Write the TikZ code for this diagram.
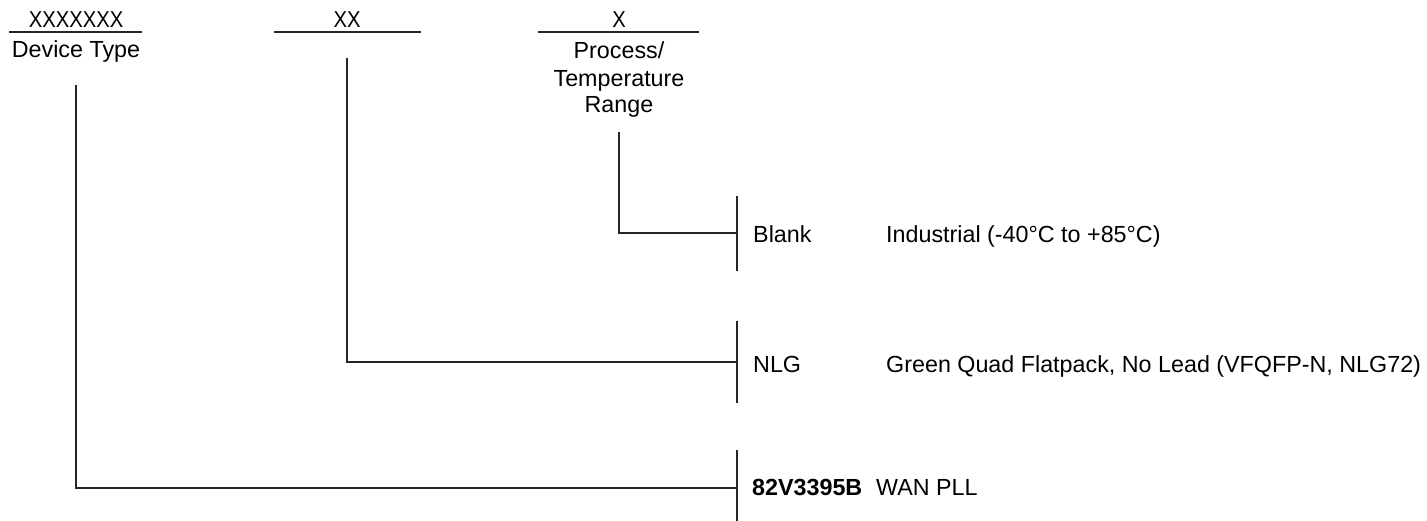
\documentclass[tikz,border=0pt]{standalone}
\usepackage{fontspec}
\setmainfont{Liberation Sans}
\begin{document}
\begin{tikzpicture}[x=1pt,y=-1pt,
  txt/.style={inner sep=0pt, font=\fontsize{23.3}{28}\selectfont},
  code/.style={inner sep=0pt, font=\fontsize{23}{27}\selectfont, xscale=0.88, anchor=base},
  ln/.style={line width=1.2pt, black!85}]
\useasboundingbox (0,0) rectangle (1427,521);
% field codes
\node[code] (c1) at (76,28) {XXXXXXX};
\node[code] (c2) at (347,28) {XX};
\node[code] (c3) at (619,28) {X};
\coordinate (u1a) at (9,32); \coordinate (u1b) at (142,32);
\coordinate (u2a) at (274,32); \coordinate (u2b) at (421,32);
\coordinate (u3a) at (538,32); \coordinate (u3b) at (699,32);
\draw[ln] (u1a) -- (u1b);
\draw[ln] (u2a) -- (u2b);
\draw[ln] (u3a) -- (u3b);
% captions
\node[txt, anchor=base] (dt) at (76,58) {Device Type};
\node[txt, anchor=base] (p1) at (619,59) {Process/};
\node[txt, anchor=base] (p2) at (619,87) {Temperature};
\node[txt, anchor=base] (p3) at (619,113) {Range};
% bars
\coordinate (b1t) at (737,196); \coordinate (b1b) at (737,271);
\coordinate (b2t) at (737,321); \coordinate (b2b) at (737,403);
\coordinate (b3t) at (737,450); \coordinate (b3b) at (737,521);
\draw[ln] (b1t) -- (b1b);
\draw[ln] (b2t) -- (b2b);
\draw[ln] (b3t) -- (b3b);
% leaders
\coordinate (l1) at (619,132); \coordinate (j1) at (737,233);
\coordinate (l2) at (347,58);  \coordinate (j2) at (737,362);
\coordinate (l3) at (76,85);   \coordinate (j3) at (737,488);
\draw[ln] (l1) |- (j1);
\draw[ln] (l2) |- (j2);
\draw[ln] (l3) |- (j3);
% options
\node[txt, anchor=base west] (o1) at (753,243) {Blank};
\node[txt, anchor=base west] (d1) at (886,243) {Industrial (-40°C to +85°C)};
\node[txt, anchor=base west] (o2) at (753,372) {NLG};
\node[txt, anchor=base west] (d2) at (886,372) {Green Quad Flatpack, No Lead (VFQFP-N, NLG72)};
\node[txt, anchor=base west, font=\fontsize{23.3}{28}\selectfont\bfseries] (o3) at (752,495) {82V3395B};
\node[txt, anchor=base west] (d3) at (876,495) {WAN PLL};
\end{tikzpicture}
\end{document}
